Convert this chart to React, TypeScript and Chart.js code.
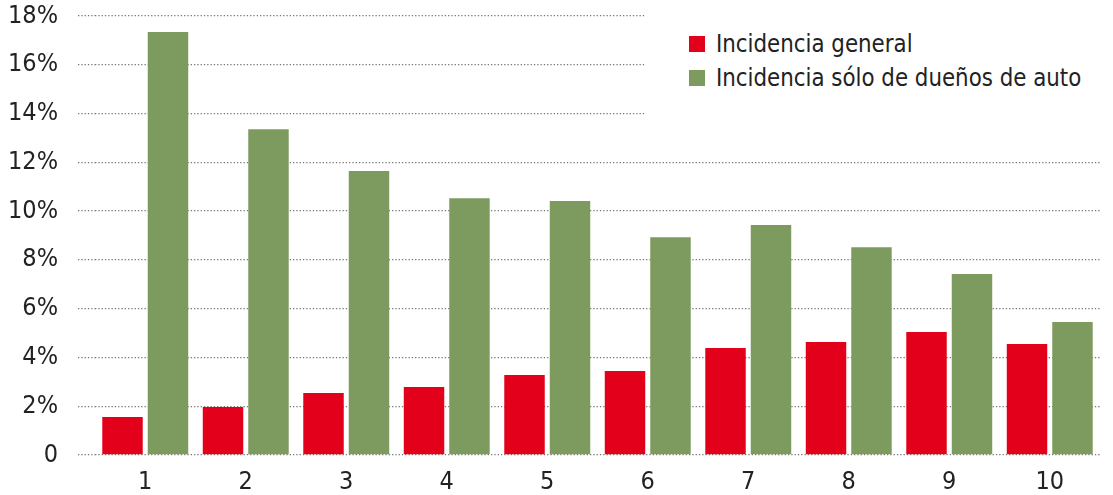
import React, { useEffect, useRef } from "react";
import { Chart, registerables } from "chart.js";

Chart.register(...registerables);

const categories = ["1", "2", "3", "4", "5", "6", "7", "8", "9", "10"];
const generalValues = [1.56, 1.97, 2.54, 2.79, 3.28, 3.44, 4.39, 4.63, 5.04, 4.55];
const ownersValues = [17.34, 13.36, 11.64, 10.53, 10.41, 8.93, 9.43, 8.52, 7.42, 5.45];
const yTickLabels = ["0", "2%", "4%", "6%", "8%", "10%", "12%", "14%", "16%", "18%"];
const seriesNames = ["Incidencia general", "Incidencia sólo de dueños de auto"];

const RED = "#e3001b";
const GREEN = "#7e9b5f";
const FONT = "'DejaVu Sans Condensed', 'Liberation Sans', sans-serif";
const GRID = "rgba(95,95,95,0.85)";

export default function App() {
  const ref = useRef<HTMLCanvasElement | null>(null);

  useEffect(() => {
    if (!ref.current) return;
    const chart = new Chart(ref.current, {
      type: "bar",
      data: {
        labels: categories,
        datasets: [
          {
            label: seriesNames[0],
            data: generalValues,
            backgroundColor: RED,
            barPercentage: 0.89,
            categoryPercentage: 0.905,
          },
          {
            label: seriesNames[1],
            data: ownersValues,
            backgroundColor: GREEN,
            barPercentage: 0.89,
            categoryPercentage: 0.905,
          },
        ],
      },
      options: {
        animation: false,
        responsive: true,
        maintainAspectRatio: false,
        layout: { padding: { top: 0, right: 13, bottom: 0, left: 0 } },
        plugins: {
          legend: { display: false },
          tooltip: { enabled: false },
        },
        scales: {
          x: {
            grid: { display: false, drawTicks: false },
            border: { display: false },
            ticks: {
              color: "#222",
              font: { family: FONT, size: 25 },
              padding: 12,
              maxRotation: 0,
            },
            afterFit: (s: any) => {
              s.height = 40;
            },
          },
          y: {
            min: 0,
            max: 18,
            z: 1,
            border: { display: false, dash: [1.3, 2] },
            grid: {
              color: GRID,
              lineWidth: 1.3,
              tickBorderDash: [1.3, 2],
              tickColor: GRID,
              tickLength: 17,
              drawTicks: true,
            },
            ticks: {
              stepSize: 2,
              color: "#222",
              font: { family: FONT, size: 25 },
              padding: 20,
              callback: (_v: any, i: number) => yTickLabels[i],
            },
            afterFit: (s: any) => {
              s.width = 95;
              s.paddingTop = 16;
              s.paddingBottom = 0;
            },
          },
        },
      },
    });
    return () => chart.destroy();
  }, []);

  const itemStyle: React.CSSProperties = {
    position: "absolute",
    left: 44,
    display: "flex",
    alignItems: "center",
    whiteSpace: "nowrap",
  };
  const textStyle: React.CSSProperties = {
    fontFamily: FONT,
    fontSize: 25,
    color: "#222",
    marginLeft: 11,
    display: "inline-block",
    transform: "scaleX(0.95)",
    transformOrigin: "left center",
    lineHeight: "30px",
  };

  return (
    <div style={{ position: "fixed", left: 0, top: 0, width: 1113, height: 495, background: "#fff" }}>
      <canvas ref={ref} />
      <div
        style={{
          position: "absolute",
          left: 645,
          top: 0,
          width: 468,
          height: 128,
          background: "#fff",
        }}
      >
        <div style={{ ...itemStyle, top: 29 }}>
          <span style={{ width: 16, height: 16, background: RED, display: "inline-block" }} />
          <span style={textStyle}>{seriesNames[0]}</span>
        </div>
        <div style={{ ...itemStyle, top: 63 }}>
          <span style={{ width: 16, height: 16, background: GREEN, display: "inline-block" }} />
          <span style={textStyle}>{seriesNames[1]}</span>
        </div>
      </div>
    </div>
  );
}
